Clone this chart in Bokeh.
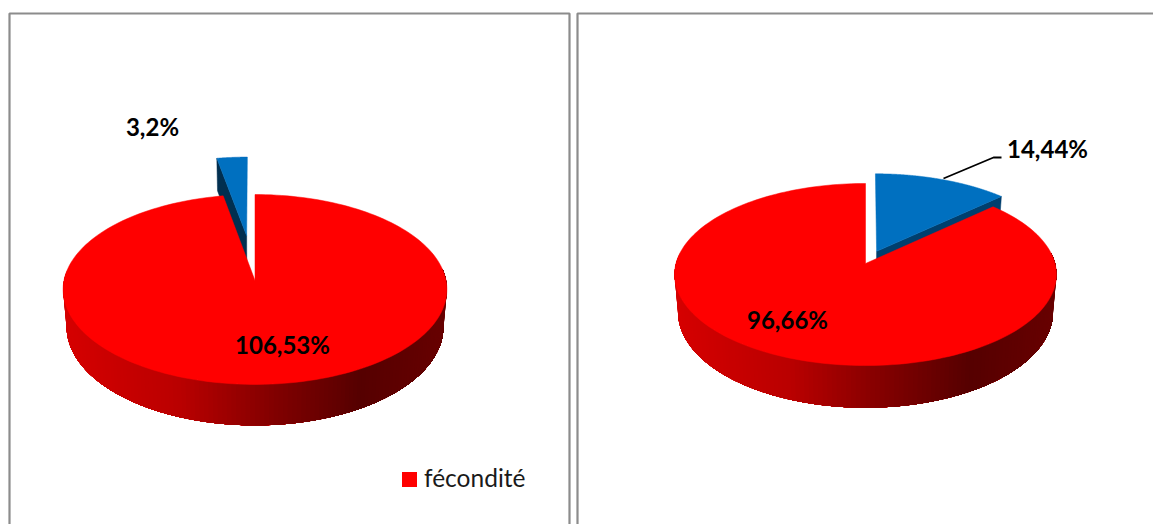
import numpy as np
from bokeh.embed import file_html
from bokeh.models import Range1d
from bokeh.plotting import figure
from bokeh.resources import INLINE
from bokeh.core.properties import value

# Slice values of each pie, in percent
left_values = [106.53, 3.2]
right_values = [96.66, 14.44]
left_labels = ["106,53%", "3,2%"]
right_labels = ["96,66%", "14,44%"]
legend_label = "fécondité"

RED = "#ff0000"
BLUE = "#0070c0"
# Wall shading from the left rim to the right rim of a pie (position, r, g, b)
RED_WALL = [(0.0, 214, 0, 0), (0.3, 186, 0, 0), (0.55, 130, 0, 0),
            (0.78, 86, 0, 0), (1.0, 104, 0, 0)]
WALL_TAPER = 0.018

WIDTH, HEIGHT = 1153, 524
p = figure(width=WIDTH, height=HEIGHT, output_backend="svg", toolbar_location=None,
           x_range=Range1d(0, WIDTH), y_range=Range1d(HEIGHT, 0),
           min_border=0, outline_line_color=None, background_fill_color="white",
           border_fill_color="white")
p.axis.visible = False
p.grid.visible = False


class Pie:
    """Perspective pie: angles run clockwise from twelve o'clock."""

    def __init__(self, cx, cy, rx, ry, persp, wall):
        self.cx, self.cy, self.rx, self.ry, self.persp, self.wall = cx, cy, rx, ry, persp, wall

    def project(self, u, v, z=0.0):
        s = 1 / (1 - self.persp * v)
        taper = 1 - WALL_TAPER * np.asarray(z)
        return self.cx + self.rx * u * s * taper, self.cy + self.ry * v * s + self.wall * z * s

    def slice_top(self, a0, a1, du=0.0, dv=0.0, color=RED):
        t = np.radians(np.linspace(a0, a1, 200))
        u = np.concatenate([[0], np.sin(t)]) + du
        v = np.concatenate([[0], -np.cos(t)]) + dv
        x, y = self.project(u, v)
        p.patch(x, y, fill_color=color, line_color=color, line_width=0.5)

    def radial_wall(self, angle, du, dv, color):
        t = np.radians(angle)
        u = np.array([0, np.sin(t), np.sin(t), 0]) + du
        v = np.array([0, -np.cos(t), -np.cos(t), 0]) + dv
        x, y = self.project(u, v, np.array([0, 0, 1, 1]))
        p.patch(x, y, fill_color=color, line_color=color, line_width=0.5)

    def red_wall(self, stops, steps=150):
        # Shaded bands along the front of the rim, painted left to right;
        # each band reaches to the far end so the next one covers its seam.
        edges = np.linspace(-0.12, np.pi + 0.12, steps + 1)
        pos = [s[0] for s in stops]
        xl, xr = self.project(-1.0, 0.0)[0], self.project(1.0, 0.0)[0]
        for t0, t1 in zip(edges[:-1], edges[1:]):
            top = np.linspace(t0, edges[-1], 120)
            t = np.concatenate([top, top[::-1]])
            z = np.concatenate([np.zeros(120), np.ones(120)])
            x, y = self.project(-np.cos(t), np.sin(t), z)
            xm = self.project(-np.cos((t0 + t1) / 2), np.sin((t0 + t1) / 2))[0]
            f = np.clip((xm - xl) / (xr - xl), 0, 1)
            color = "#%02x%02x%02x" % tuple(
                int(np.interp(f, pos, [s[i] for s in stops])) for i in (1, 2, 3))
            p.patch(x, y, fill_color=color, line_color=None)


def sweep(values):
    return values[0] / sum(values) * 360


# Left pie: the red slice runs clockwise from twelve o'clock, the blue one is pulled out
left = Pie(254.5, 280, 191, 94.1, 0.0947, 37)
a = sweep(left_values)
mid = np.radians((a + 360) / 2)
du, dv = 0.50 * np.sin(mid), -0.50 * np.cos(mid)
left.radial_wall(a, du, dv, "#012f50")
left.slice_top(a, 360, du, dv, BLUE)
left.red_wall(RED_WALL)
left.slice_top(0, a)

# Right pie: the blue slice comes first, the red one fills the rest of the turn
right = Pie(865, 263, 189.5, 89.7, 0.121, 37)
b = sweep(right_values[::-1])
mid = np.radians(b / 2)
du, dv = 0.15 * np.sin(mid), -0.15 * np.cos(mid)
right.radial_wall(b, du, dv, "#003f6e")
right.slice_top(0, b, du, dv, BLUE)
right.red_wall(RED_WALL)
right.slice_top(b, 360)

# Leader line of the blue label on the right pie
p.line([943, 993, 1001], [178, 157, 157], line_color="black", line_width=1.8)

# Panel frames
frame = dict(line_color="#8c8c8c", line_width=2.2)
p.line([9, 9, 569, 569], [HEIGHT, 13, 13, HEIGHT], **frame)
p.line([577, 577, WIDTH], [HEIGHT, 13, 13], **frame)

# Data labels
bold = dict(text_font=value("Lato"), text_font_style="bold", text_font_size="24px",
            text_color="black", text_baseline="middle", text_align="center")
p.text([282], [344], text=[left_labels[0]], **bold)
p.text([152], [126], text=[left_labels[1]], **bold)
p.text([787], [319], text=[right_labels[0]], **bold)
p.text([1047], [148], text=[right_labels[1]], **bold)

# Legend entry of the left pie
p.rect([409], [479], width=15, height=15, fill_color=RED, line_color=None)
p.text([423.5], [477], text=[legend_label], text_font=value("Lato"), text_font_size="24.5px",
       text_color="#1a1a1a", text_baseline="middle", text_align="left")

open("out.html", "w").write(file_html(p, INLINE))
